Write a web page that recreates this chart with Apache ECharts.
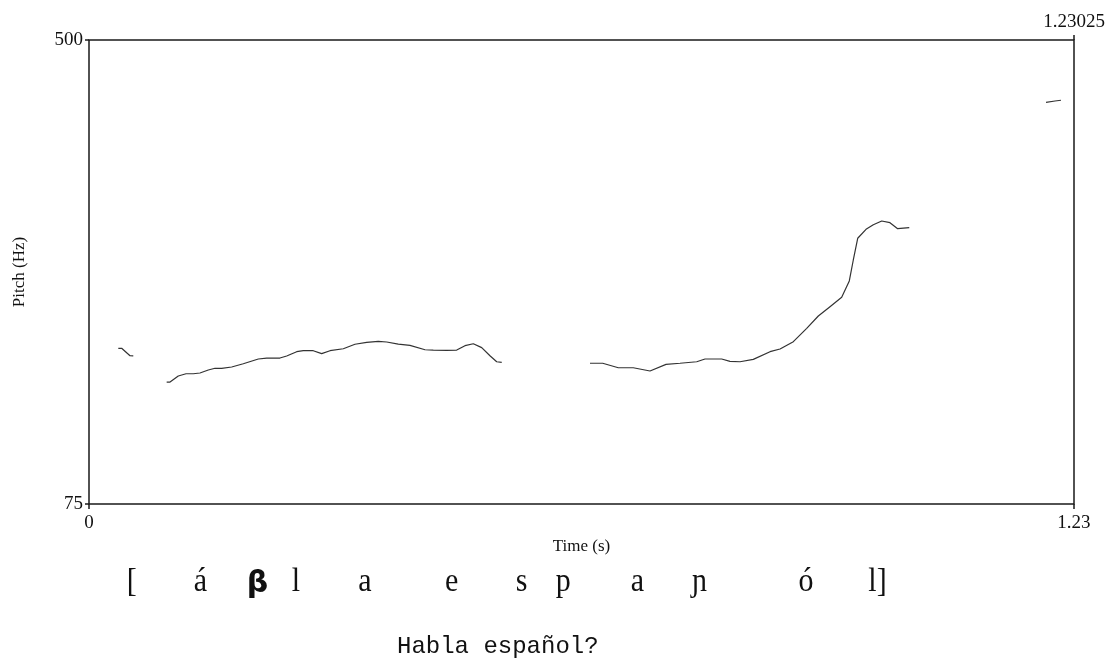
<!DOCTYPE html>
<html>
<head>
<meta charset="utf-8">
<script src="https://cdn.jsdelivr.net/npm/echarts@6/dist/echarts.min.js"></script>
<style>
html,body{margin:0;padding:0;background:#fff;}
#chart{width:1109px;height:664px;}
</style>
</head>
<body>
<div id="chart"></div>
<script>
// Pitch contour segments: [time (s), pitch (Hz)]
var segment1 = [[0.0366,217.6],[0.0408,217.6],[0.0512,210.8],[0.0553,210.6]];
var segment2 = [[0.0970,186.7],[0.1012,186.7],[0.1115,192.2],[0.1212,194.3],[0.1303,194.3],[0.1386,195.0],[0.1490,197.7],[0.1574,199.3],[0.1657,199.3],[0.1782,200.5],[0.1927,203.5],[0.2115,207.8],[0.2219,208.7],[0.2385,208.7],[0.2469,210.6],[0.2594,214.5],[0.2677,215.4],[0.2801,215.4],[0.2906,212.7],[0.3010,215.4],[0.3176,217.2],[0.3322,221.3],[0.3468,223.1],[0.3613,224.0],[0.3718,223.4],[0.3863,221.5],[0.4009,220.3],[0.4197,216.3],[0.4300,216.0],[0.4468,215.8],[0.4593,216.0],[0.4696,220.0],[0.4800,221.8],[0.4905,218.2],[0.5008,210.8],[0.5092,205.3],[0.5155,204.8]];
var segment3 = [[0.6257,203.9],[0.6416,203.9],[0.6611,199.8],[0.6798,199.8],[0.7007,196.8],[0.7207,202.9],[0.7382,203.9],[0.7590,205.3],[0.7694,207.8],[0.7902,207.8],[0.8006,205.7],[0.8131,205.3],[0.8297,207.5],[0.8506,214.5],[0.8631,217.0],[0.8797,223.7],[0.8964,235.9],[0.9109,247.2],[0.9255,255.7],[0.9401,264.3],[0.9496,279.3],[0.9546,298.5],[0.9601,318.4],[0.9705,326.6],[0.9796,330.8],[0.9901,334.2],[1.0004,332.7],[1.0100,327.2],[1.0245,328.1]];
var segment4 = [[1.1953,442.9],[1.2065,444.1],[1.2140,444.8]];

var timeMin = 0, timeMax = 1.23025;
var pitchMin = 75, pitchMax = 500;
var bottomTickLabels = [0, 1.23];
var leftTickLabels = [75, 500];
var topTickLabels = [1.23025];

var phoneLabels = ['[', 'á', 'β', 'l', 'a', 'e', 's', 'p', 'a', 'ɲ', 'ó', 'l]'];
var sentence = 'Habla español?';

// layout of the transcription row (pixels)
var phoneX = [131.7, 200.5, 257.5, 296, 365, 451.7, 521.7, 563.3, 637.5, 699.5, 806, 877.5];

var serif = '"Liberation Serif", "Times New Roman", serif';
var chart = echarts.init(document.getElementById('chart'), null, {renderer: 'canvas'});

function seg(data) {
  return {
    type: 'line', data: data, showSymbol: false, symbol: 'none',
    lineStyle: {color: '#333', width: 1.2}, silent: true, animation: false
  };
}

var graphics = phoneLabels.map(function (t, i) {
  var isBeta = t === 'β';
  return {
    type: 'text', x: phoneX[i], y: isBeta ? 584 : 582, scaleY: isBeta ? 1 : 1.1, originY: 0,
    style: {
      text: t, textAlign: 'center', textVerticalAlign: 'middle',
      font: isBeta ? '600 30px "DejaVu Sans"' : '30px "Liberation Serif", "DejaVu Serif"',
      fill: '#111'
    }
  };
});
graphics.push({
  type: 'text', x: 397, y: 647,
  style: {text: sentence, textAlign: 'left', textVerticalAlign: 'middle',
    font: '24px "Liberation Mono", "DejaVu Sans Mono", monospace', fill: '#111'}
});

chart.setOption({
  animation: false,
  backgroundColor: '#fff',
  grid: {left: 89, right: 35, top: 40, bottom: 160, show: true, borderColor: '#1a1a1a', borderWidth: 1.5, backgroundColor: 'transparent'},
  xAxis: [{
    type: 'value', min: timeMin, max: timeMax, position: 'bottom',
    name: 'Time (s)', nameLocation: 'middle', nameGap: 33,
    nameTextStyle: {fontFamily: serif, fontSize: 17, color: '#111'},
    axisLine: {show: false},
    axisTick: {show: true, customValues: bottomTickLabels, length: 5, lineStyle: {color: '#1a1a1a', width: 1.5}},
    axisLabel: {customValues: bottomTickLabels, fontFamily: serif, fontSize: 19, color: '#111', margin: 10,
      formatter: function (v) { return v === 0 ? '0' : String(v); }},
    splitLine: {show: false}
  }, {
    type: 'value', min: timeMin, max: timeMax, position: 'top',
    axisLine: {show: false},
    axisTick: {show: true, customValues: topTickLabels, length: 5, lineStyle: {color: '#1a1a1a', width: 1.5}},
    axisLabel: {customValues: topTickLabels, fontFamily: serif, fontSize: 19, color: '#111', margin: 8,
      formatter: function (v) { return String(v); }},
    splitLine: {show: false}
  }],
  yAxis: {
    type: 'value', min: pitchMin, max: pitchMax,
    name: 'Pitch (Hz)', nameLocation: 'middle', nameGap: 61, nameRotate: 90,
    nameTextStyle: {fontFamily: serif, fontSize: 17, color: '#111'},
    axisLine: {show: false},
    axisTick: {show: true, customValues: leftTickLabels, length: 4, lineStyle: {color: '#1a1a1a', width: 1.5}},
    axisLabel: {customValues: leftTickLabels, fontFamily: serif, fontSize: 19, color: '#111', margin: 6},
    splitLine: {show: false}
  },
  series: [seg(segment1), seg(segment2), seg(segment3), seg(segment4)],
  graphic: graphics
});
</script>
</body>
</html>
